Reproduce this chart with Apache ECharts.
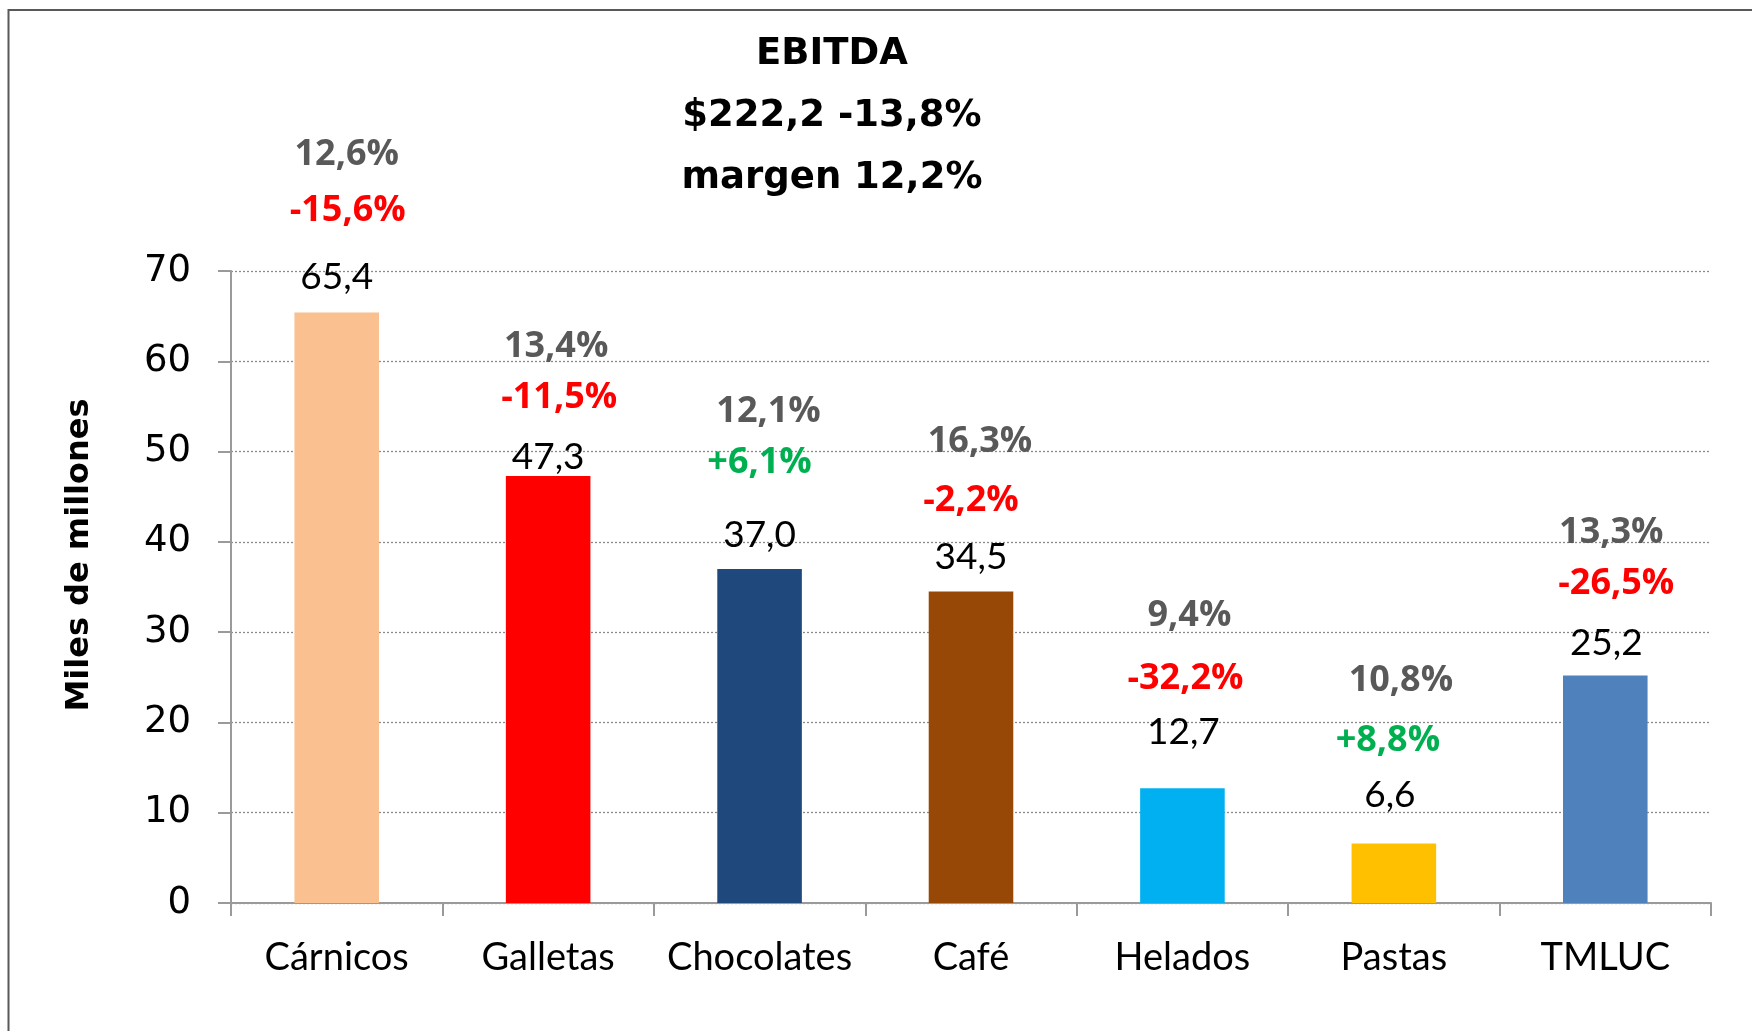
<!DOCTYPE html>
<html>
<head>
<meta charset="utf-8">
<script src="https://cdn.jsdelivr.net/npm/echarts@6/dist/echarts.min.js"></script>
<style>
html,body{margin:0;padding:0;background:#fff;}
#chart{width:1752px;height:1031px;}
</style>
</head>
<body>
<div id="chart"></div>
<script>
// ---- data ----
const categories = ['Cárnicos', 'Galletas', 'Chocolates', 'Café', 'Helados', 'Pastas', 'TMLUC'];
const ebitda = [65.4, 47.3, 37.0, 34.5, 12.7, 6.6, 25.2];
const growth = [-15.6, -11.5, 6.1, -2.2, -32.2, 8.8, -26.5];
const margin = [12.6, 13.4, 12.1, 16.3, 9.4, 10.8, 13.3];
const yTicks = [0, 10, 20, 30, 40, 50, 60, 70];
const titleLines = ['EBITDA', '$222,2 -13,8%', 'margen 12,2%'];
const yAxisName = 'Miles de millones';

// ---- style / layout (not data) ----
const barColors = ['#FAC090', '#FF0000', '#1F497D', '#974806', '#00B0F0', '#FFC000', '#4F81BD'];
const labelShiftY = 2;
const valueOff = [[0,-37.5],[0,-21],[0,-36],[0,-36.5],[1,-58.7],[-4,-50],[1,-34.5]];
const growthOff = [[11,-103.5],[11,-80.5],[0,-108],[0,-92.5],[3,-112],[-6,-105],[11,-93.5]];
const marginOff = [[10,-159.5],[8,-131],[9,-159],[9,-151.5],[7,-175],[7,-165],[6,-144.5]];

const fmt = (v, d) => v.toFixed(d).replace('.', ',');

const chart = echarts.init(document.getElementById('chart'));

function labelSeries(name, offs, textFn, styleFn) {
  return {
    name: name,
    type: 'scatter',
    symbolSize: 1,
    itemStyle: { color: 'rgba(255,255,255,0)' },
    silent: true,
    z: 5,
    data: ebitda.map((v, i) => ({
      value: v,
      label: Object.assign({
        show: true,
        position: 'inside',
        offset: [offs[i][0], offs[i][1] + labelShiftY],
        textBorderWidth: 0,
        textShadowBlur: 0,
        opacity: 1,
        formatter: textFn(i)
      }, styleFn(i))
    }))
  };
}

chart.setOption({
  animation: false,
  backgroundColor: '#ffffff',
  grid: { left: 231, right: 41, top: 271, bottom: 128, containLabel: false },
  xAxis: {
    type: 'category',
    data: categories,
    axisLine: { show: true, lineStyle: { color: '#9a9a9a', width: 2 } },
    axisTick: { show: true, alignWithLabel: false, length: 13, lineStyle: { color: '#9a9a9a', width: 2 } },
    axisLabel: { interval: 0, margin: 36, color: '#000', fontFamily: 'Lato', fontSize: 38 },
    splitLine: { show: false }
  },
  yAxis: {
    type: 'value',
    min: yTicks[0],
    max: yTicks[yTicks.length - 1],
    interval: yTicks[1] - yTicks[0],
    axisLine: { show: true, lineStyle: { color: '#9a9a9a', width: 2 } },
    axisTick: { show: true, length: 13, lineStyle: { color: '#9a9a9a', width: 2 } },
    axisLabel: { margin: 40, color: '#000', fontFamily: 'DejaVu Sans', fontSize: 37 },
    splitLine: { show: true, lineStyle: { color: '#8a8a8a', width: 1.3, type: [2, 2] } }
  },
  series: [
    {
      name: 'EBITDA',
      type: 'bar',
      barWidth: '40%',
      data: ebitda.map((v, i) => ({ value: v, itemStyle: { color: barColors[i] } })),
      z: 3
    },
    labelSeries('valor', valueOff, i => fmt(ebitda[i], 1),
      i => ({ color: '#000000', fontFamily: 'Lato', fontSize: 37 })),
    labelSeries('crecimiento', growthOff, i => (growth[i] > 0 ? '+' : '') + fmt(growth[i], 1) + '%',
      i => ({ color: growth[i] > 0 ? '#00B050' : '#FF0000', fontFamily: 'Open Sans', fontWeight: 'bold', fontSize: 36 })),
    labelSeries('margen', marginOff, i => fmt(margin[i], 1) + '%',
      i => ({ color: '#595959', fontFamily: 'Open Sans', fontWeight: 'bold', fontSize: 36 }))
  ],
  graphic: [
    {
      type: 'rect',
      silent: true,
      shape: { x: 8.5, y: 10, width: 2000, height: 2000 },
      style: { fill: 'none', stroke: '#595959', lineWidth: 2 }
    },
    {
      type: 'text',
      silent: true,
      x: 832,
      y: 23,
      style: {
        text: titleLines.join('\n'),
        textAlign: 'center',
        textVerticalAlign: 'top',
        font: 'bold 37px "DejaVu Sans"',
        lineHeight: 62,
        fill: '#000'
      }
    },
    {
      type: 'text',
      silent: true,
      x: 80,
      y: 555,
      rotation: Math.PI / 2,
      style: {
        text: yAxisName,
        textAlign: 'center',
        textVerticalAlign: 'middle',
        font: 'bold 32px "DejaVu Sans"',
        fill: '#000'
      }
    }
  ]
});
</script>
</body>
</html>
